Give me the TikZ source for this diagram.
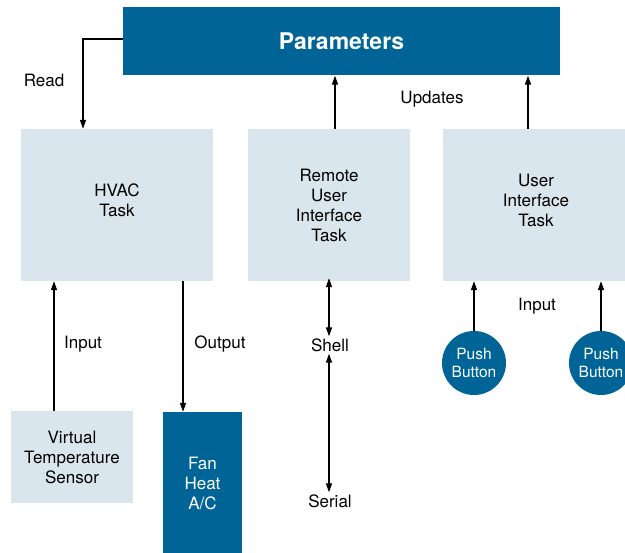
\documentclass[tikz,border=0pt]{standalone}
\usepackage{fontspec}
\setmainfont{TeX Gyre Heros}
\usetikzlibrary{arrows.meta}
\definecolor{darkblue}{RGB}{0,100,150}
\definecolor{lightblue}{RGB}{217,230,238}
\begin{document}
\begin{tikzpicture}[x=1pt,y=-1pt,
  every node/.style={font=\fontsize{17}{20}\selectfont, align=center},
  lightbox/.style={fill=lightblue, inner sep=0pt},
  darkbox/.style={fill=darkblue, text=white, inner sep=0pt},
  btn/.style={circle, fill=darkblue, text=white, minimum size=64pt, inner sep=0pt, font=\fontsize{15.5}{18}\selectfont},
  lbl/.style={inner sep=2pt},
  arr/.style={-{Triangle[length=9pt,width=6pt]}, line width=1.4pt},
  darr/.style={{Triangle[length=9pt,width=6pt]}-{Triangle[length=9pt,width=6pt]}, line width=1.4pt}]
\clip (0,0) rectangle (625,553);
\fill[white] (0,0) rectangle (625,553);

\node[darkbox, minimum width=437pt, minimum height=68pt, font=\fontsize{23}{26}\selectfont\bfseries] (params) at (341.5,41.5) {Parameters};
\node[lightbox, minimum width=192pt, minimum height=152pt] (hvac) at (117,205) {HVAC\\Task\\[-10pt]\mbox{}};
\node[lightbox, minimum width=162pt, minimum height=152pt] (remote) at (329,205) {Remote\\User\\Interface\\Task};
\node[lightbox, minimum width=186pt, minimum height=152pt] (ui) at (536,205) {User\\Interface\\Task\\[-10pt]\mbox{}};
\node[lightbox, minimum width=122pt, minimum height=92pt] (sensor) at (72,457) {Virtual\\Temperature\\Sensor};
\node[darkbox, minimum width=79pt, minimum height=142pt] (fan) at (202.5,483) {Fan\\Heat\\A/C};
\node[btn] (b1) at (474,363) {Push\\Button};
\node[btn] (b2) at (601,363) {Push\\Button};
\node[lbl] (shell) at (330,345) {Shell};
\node[lbl] (serial) at (330,501) {Serial};

\node (read) at (44,80) {Read};
\node (updates) at (432,99) {Updates};
\node (in1) at (83,344) {Input};
\node (out) at (220,344) {Output};
\node (in2) at (537,306) {Input};

\coordinate (rd) at ([xshift=-34pt]hvac.north);
\coordinate (up1) at ([xshift=6pt]remote.north);
\coordinate (up2) at ([xshift=-8pt]ui.north);
\coordinate (inp) at ([xshift=-18pt]sensor.north);
\coordinate (outp) at ([xshift=-19.5pt]fan.north);
\coordinate (shtop) at ([yshift=3pt]remote.south);
\draw[arr] ([yshift=2.5pt]params.west) -| (rd);
\draw[arr] (up1) -- (up1 |- params.south);
\draw[arr] (up2) -- (up2 |- params.south);
\draw[arr] (inp) -- (inp |- hvac.south);
\draw[arr] (outp |- hvac.south) -- (outp);
\draw[darr] (shtop) -- (shtop |- shell.north);
\draw[darr] (shtop |- shell.south) -- (shtop |- serial.north);
\draw[arr] (b1.north) -- (b1.north |- ui.south);
\draw[arr] (b2.north) -- (b2.north |- ui.south);
\end{tikzpicture}
\end{document}
